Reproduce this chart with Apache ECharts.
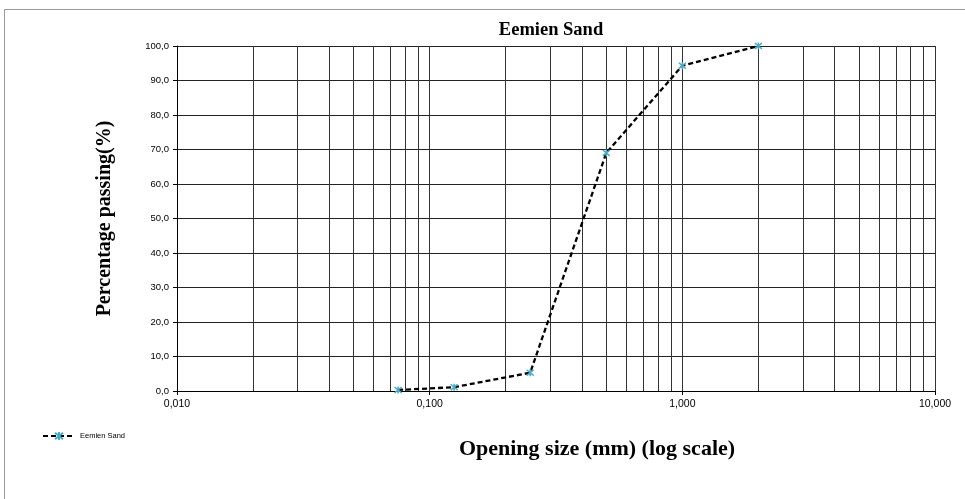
<!DOCTYPE html>
<html>
<head>
<meta charset="utf-8">
<script src="https://cdn.jsdelivr.net/npm/echarts@6/dist/echarts.min.js"></script>
<style>html,body{margin:0;padding:0;background:#fff}#c{width:965px;height:499px}</style>
</head>
<body>
<div id="c"></div>
<script>
var seriesName = 'Eemien Sand';
var openingSize = [0.075, 0.125, 0.25, 0.5, 1.0, 2.0];
var percentPassing = [0.3, 1.1, 5.3, 69.0, 94.3, 100.0];
var minorGridValues = [0.02,0.03,0.04,0.05,0.06,0.07,0.08,0.09,0.2,0.3,0.4,0.5,0.6,0.7,0.8,0.9,2,3,4,5,6,7,8,9];

var chart = echarts.init(document.getElementById('c'), null, {renderer: 'canvas'});
var serif = '"Liberation Serif", "Times New Roman", serif';
var sans = '"Liberation Sans", Arial, sans-serif';
var starPath = 'path://M0,0 L10,10 M10,0 L0,10 M5,-1 L5,11';

chart.setOption({
  animation: false,
  backgroundColor: '#fff',
  graphic: [{
    type: 'polyline', silent: true,
    shape: {points: [[4.5, 600], [4.5, 9.5], [1000, 9.5]]},
    style: {stroke: '#9a9a9a', lineWidth: 1, fill: null}
  }],
  title: [{
    text: 'Eemien Sand', left: 546, top: 16, textAlign: 'center',
    textStyle: {fontFamily: serif, fontWeight: 'bold', fontSize: 18.5, color: '#000'}
  }, {
    text: 'Opening size (mm) (log scale)', left: 592, top: 433, textAlign: 'center',
    textStyle: {fontFamily: serif, fontWeight: 'bold', fontSize: 22, color: '#000'}
  }],
  legend: {
    left: 37, top: 426, itemWidth: 32, itemHeight: 10, itemGap: 5,
    textStyle: {fontFamily: sans, fontSize: 7.5, color: '#000'},
    data: [seriesName]
  },
  grid: {left: 177, top: 46, right: 30, bottom: 108},
  xAxis: {
    type: 'log', logBase: 10, min: 0.01, max: 10,
    axisLine: {show: true, onZero: false, lineStyle: {color: '#000', width: 1}},
    axisTick: {show: true, length: 4, lineStyle: {color: '#000'}},
    axisLabel: {
      fontFamily: sans, fontSize: 10.5, color: '#000', margin: 8,
      formatter: function (v) { return v.toFixed(3).replace('.', ','); }
    },
    splitLine: {show: true, lineStyle: {color: '#333', width: 1}}
  },
  yAxis: {
    type: 'value', min: 0, max: 100, interval: 10,
    name: 'Percentage passing(%)', nameLocation: 'middle', nameGap: 62,
    nameTextStyle: {fontFamily: serif, fontWeight: 'bold', fontSize: 20, color: '#000'},
    axisLine: {show: true, lineStyle: {color: '#000', width: 1}},
    axisTick: {show: true, length: 4, lineStyle: {color: '#000'}},
    axisLabel: {
      fontFamily: sans, fontSize: 9.5, color: '#000', margin: 8,
      formatter: function (v) { return v.toFixed(1).replace('.', ','); }
    },
    splitLine: {show: true, lineStyle: {color: '#222', width: 1}}
  },
  series: [{
    name: seriesName,
    type: 'line',
    data: openingSize.map(function (x, i) { return [x, percentPassing[i]]; }),
    symbol: starPath,
    symbolSize: 7,
    showSymbol: true,
    lineStyle: {color: '#000', width: 2.3, type: [5, 3]},
    itemStyle: {color: '#000', borderColor: '#4bacc6', borderWidth: 1.5},
    z: 5,
    markLine: {
      silent: true, symbol: 'none', animation: false,
      label: {show: false},
      lineStyle: {color: '#333', width: 1, type: 'solid'},
      emphasis: {disabled: true},
      data: minorGridValues.map(function (v) { return {xAxis: v}; }),
      z: 1
    }
  }]
});
</script>
</body>
</html>
